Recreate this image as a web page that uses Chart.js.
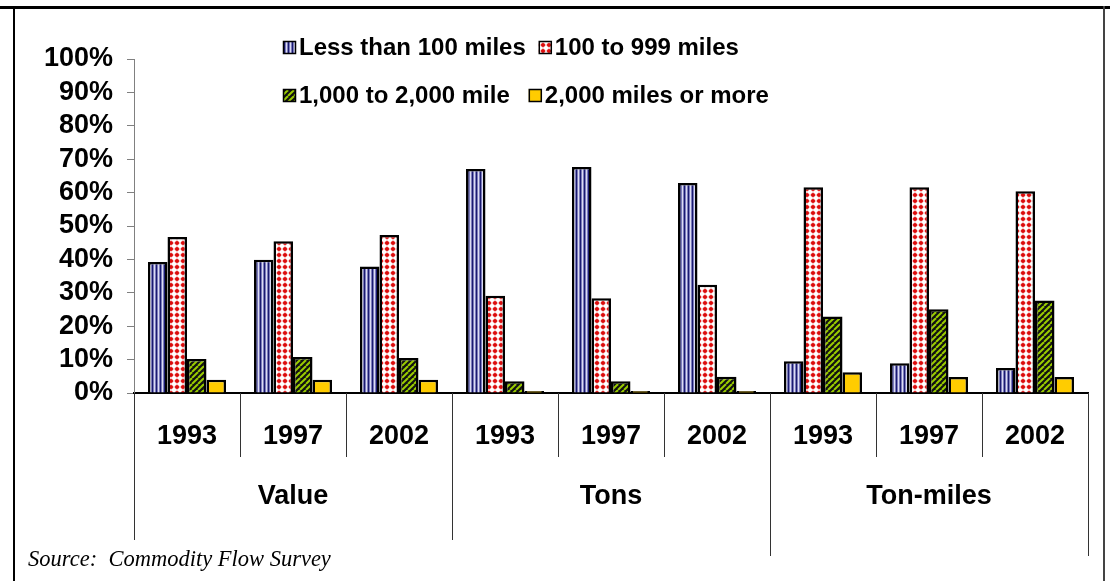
<!DOCTYPE html>
<html>
<head>
<meta charset="utf-8">
<title>Shipments by distance</title>
<script src="https://cdn.jsdelivr.net/npm/chart.js@4"></script>
<style>
  html, body { margin: 0; padding: 0; background: #ffffff; }
  #wrap { position: relative; width: 1110px; height: 581px; }
  canvas { display: block; }
</style>
</head>
<body>
<div id="wrap"><canvas id="c" width="1110" height="581"></canvas></div>
<script>
// Share of shipments by distance band, for value, tons and ton-miles
const years = ['1993', '1997', '2002', '1993', '1997', '2002', '1993', '1997', '2002'];
const groups = ['Value', 'Tons', 'Ton-miles'];
const seriesNames = ['Less than 100 miles', '100 to 999 miles', '1,000 to 2,000 mile', '2,000 miles or more'];
const under100 = [39.2, 39.9, 37.9, 67.1, 67.7, 62.9, 9.5, 8.9, 7.5];
const from100to999 = [46.7, 45.4, 47.3, 29.1, 28.4, 32.4, 61.6, 61.6, 60.4];
const from1000to2000 = [10.2, 10.8, 10.5, 3.5, 3.5, 4.9, 22.9, 25.1, 27.7];
const over2000 = [4.0, 4.0, 4.0, 0.6, 0.6, 0.6, 6.2, 4.8, 4.8];
const yTicks = [0, 10, 20, 30, 40, 50, 60, 70, 80, 90, 100];
const sourceNote = 'Source:  Commodity Flow Survey';

const FONT = '"Liberation Sans", Arial, sans-serif';

function tile(w, h, paint) {
  const cv = document.createElement('canvas');
  cv.width = w; cv.height = h;
  const g = cv.getContext('2d');
  paint(g, w, h);
  return document.getElementById('c').getContext('2d').createPattern(cv, 'repeat');
}

// vertical navy stripes
const stripeFill = tile(4, 4, (g) => {
  g.fillStyle = '#7c7cbc'; g.fillRect(0, 0, 4, 4);
  g.fillStyle = '#1a1a70'; g.fillRect(0, 0, 1, 4);
  g.fillStyle = '#dcdcf2'; g.fillRect(2, 0, 1, 4);
});
// red dots on white
const dotFill = tile(6, 6, (g) => {
  g.fillStyle = '#ffffff'; g.fillRect(0, 0, 6, 6);
  g.fillStyle = '#f0a0a0';
  g.fillRect(2.5, 0, 1, 6);
  g.fillRect(0, 2.5, 6, 1);
  g.fillStyle = '#dc0c0c';
  g.beginPath(); g.arc(3, 3, 2.1, 0, Math.PI * 2); g.fill();
});
// black / yellow-green diagonal stripes
const diagFill = tile(6, 6, (g) => {
  g.fillStyle = '#111111'; g.fillRect(0, 0, 6, 6);
  g.strokeStyle = '#9acc00'; g.lineWidth = 2;
  for (let k = -6; k <= 12; k += 6) {
    g.beginPath(); g.moveTo(k, 6); g.lineTo(k + 6, 0); g.stroke();
  }
});
const solidYellow = '#ffcc00';

const fills = [stripeFill, dotFill, diagFill, solidYellow];
const values = [under100, from100to999, from1000to2000, over2000];

// legend drawn as two left-aligned rows
const legendRows = {
  id: 'legendRows',
  afterDraw(chart) {
    const ctx = chart.ctx;
    const rows = [[0, 1], [2, 3]];
    const rowY = [47, 95];
    ctx.save();
    ctx.font = 'bold 24px ' + FONT;
    ctx.textBaseline = 'middle';
    ctx.fillStyle = '#000';
    rows.forEach((row, r) => {
      let x = 283;
      const y = rowY[r];
      row.forEach((i) => {
        const ds = chart.data.datasets[i];
        ctx.fillStyle = ds.backgroundColor;
        ctx.fillRect(x, y - 6, 13, 13);
        ctx.strokeStyle = '#000'; ctx.lineWidth = 1.5;
        ctx.strokeRect(x + 0.5, y - 5.5, 12, 12);
        ctx.fillStyle = '#000';
        ctx.fillText(ds.label, x + 16, y + 1);
        x += 16 + ctx.measureText(ds.label).width + (i === 2 ? 19 : 13);
      });
    });
    ctx.restore();
  }
};

// category dividers, group names, frame and source note
const frame = {
  id: 'frame',
  afterDraw(chart) {
    const ctx = chart.ctx;
    const xs = chart.scales.x;
    const area = chart.chartArea;
    const n = years.length;
    const edge = (i) => {
      if (i === 0) return area.left;
      if (i === n) return area.right;
      return (xs.getPixelForValue(i - 1) + xs.getPixelForValue(i)) / 2;
    };
    ctx.save();
    ctx.strokeStyle = '#333333';
    ctx.lineWidth = 1;
    for (let i = 0; i <= n; i++) {
      let bottom = 457;
      if (i % 3 === 0) bottom = (i >= 6) ? 556 : 540;
      const x = Math.round(edge(i)) + 0.5;
      ctx.beginPath(); ctx.moveTo(x, area.bottom); ctx.lineTo(x, bottom); ctx.stroke();
    }
    ctx.font = 'bold 27px ' + FONT;
    ctx.fillStyle = '#000';
    ctx.textAlign = 'center';
    ctx.textBaseline = 'middle';
    groups.forEach((g, k) => {
      const cx = (edge(k * 3) + edge(k * 3 + 3)) / 2;
      ctx.fillText(g, cx, 497);
    });

    // outer frame
    ctx.fillStyle = '#000';
    ctx.fillRect(0, 6, 1110, 3);
    ctx.fillRect(13, 6, 2, 575);
    ctx.fillStyle = '#444';
    ctx.fillRect(1103, 6, 2, 575);

    ctx.font = 'italic 22.5px "Liberation Serif", "Times New Roman", serif';
    ctx.textAlign = 'left';
    ctx.textBaseline = 'alphabetic';
    ctx.fillStyle = '#000';
    ctx.fillText(sourceNote, 28, 566);
    ctx.restore();
  }
};

new Chart(document.getElementById('c'), {
  type: 'bar',
  data: {
    labels: years,
    datasets: seriesNames.map((name, i) => ({
      label: name,
      data: values[i],
      backgroundColor: fills[i],
      borderColor: '#000000',
      borderWidth: 2.5,
      borderSkipped: 'bottom',
      categoryPercentage: 0.736,
      barPercentage: 1.0
    }))
  },
  options: {
    responsive: false,
    animation: false,
    devicePixelRatio: 1,
    layout: { padding: { left: 14, right: 22, top: 59, bottom: 0 } },
    plugins: { legend: { display: false }, tooltip: { enabled: false } },
    scales: {
      x: {
        grid: { display: false, drawTicks: false },
        border: { display: true, color: '#000000', width: 2 },
        ticks: {
          color: '#000',
          font: { family: FONT, size: 27, weight: 'bold' },
          padding: 27,
          maxRotation: 0,
          autoSkip: false
        },
        afterFit(s) { s.height = 188; }
      },
      y: {
        min: 0,
        max: 100,
        afterBuildTicks(s) { s.ticks = yTicks.map(v => ({ value: v })); },
        grid: { drawOnChartArea: false, drawTicks: true, tickLength: 7, color: '#808080' },
        border: { display: true, color: '#808080', width: 1 },
        ticks: {
          color: '#000',
          font: { family: FONT, size: 27, weight: 'bold' },
          padding: 14,
          autoSkip: false,
          callback: (v) => v + '%'
        },
        afterFit(s) { s.width = 120; }
      }
    }
  },
  plugins: [legendRows, frame]
});
</script>
</body>
</html>
